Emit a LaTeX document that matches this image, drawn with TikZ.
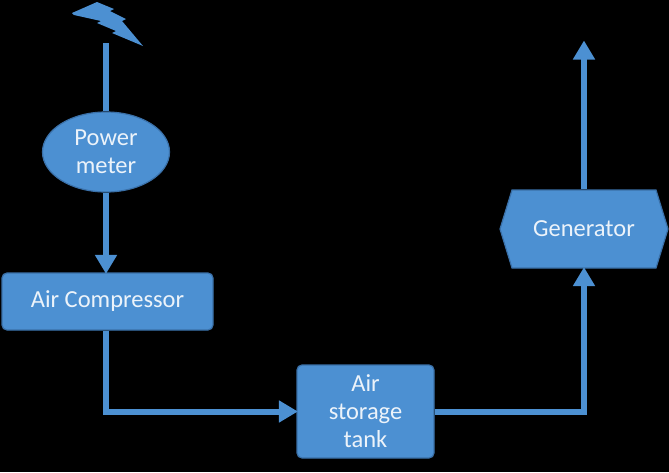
\documentclass[tikz,border=0pt]{standalone}
\usepackage{fontspec}
\setmainfont{Carlito}
\usetikzlibrary{shapes.geometric,arrows.meta,positioning}
\definecolor{boxfill}{RGB}{76,144,210}
\definecolor{boxline}{RGB}{58,112,168}
\definecolor{txt}{RGB}{236,243,250}
\tikzset{
  x=1pt, y=-1pt,
  blk/.style={fill=boxfill, draw=boxline, line width=1.2pt, text=txt, font=\fontsize{24.5}{28}\selectfont, align=center, inner sep=0pt},
  rbox/.style={blk, rectangle, rounded corners=5pt},
  oval/.style={blk, ellipse},
  conn/.style={draw=boxfill, line width=6pt},
  arr/.style={conn, -{Triangle[width=21pt,length=19pt]}, shorten >=-1.5pt},
}
\begin{document}
\begin{tikzpicture}
\useasboundingbox (0,0) rectangle (669,472);
\fill[black] (0,0) rectangle (669,472);
% lightning bolt
\fill[boxfill] (72,13) -- (97,2) -- (114,9) -- (110,11) -- (126,19) -- (122,21) -- (143,46) -- (112,33) -- (116,31) -- (97,23) -- (101,21) -- (74,15) -- cycle;
\coordinate (bolt) at (106,43);
% nodes
\node[oval, minimum width=127pt, minimum height=80pt] (pm) at (106,152) {Power\\meter};
\node[rbox, minimum width=211pt, minimum height=57pt] (comp) at (107.5,301.5) {Air Compressor};
\node[rbox, minimum width=137pt, minimum height=93pt] (tank) at (365.5,411.5) {Air\\storage\\tank};
% generator hexagon
\filldraw[fill=boxfill, draw=boxline, line width=1.2pt] (500,229) -- (512,190) -- (656,190) -- (668,229) -- (656,268) -- (512,268) -- cycle;
\node[blk, fill=none, draw=none, minimum width=168pt, minimum height=78pt] (gen) at (584,229) {Generator};
\coordinate (out) at (584,42);
% connectors
\draw[conn] (bolt) -- (pm.north);
\draw[arr] (pm.south) -- (pm.south |- comp.north);
\draw[arr] (pm.south |- comp.south) |- (tank.west);
\draw[arr] (tank.east) -| (gen.south);
\draw[arr] (gen.north) -- (out);
\end{tikzpicture}
\end{document}
